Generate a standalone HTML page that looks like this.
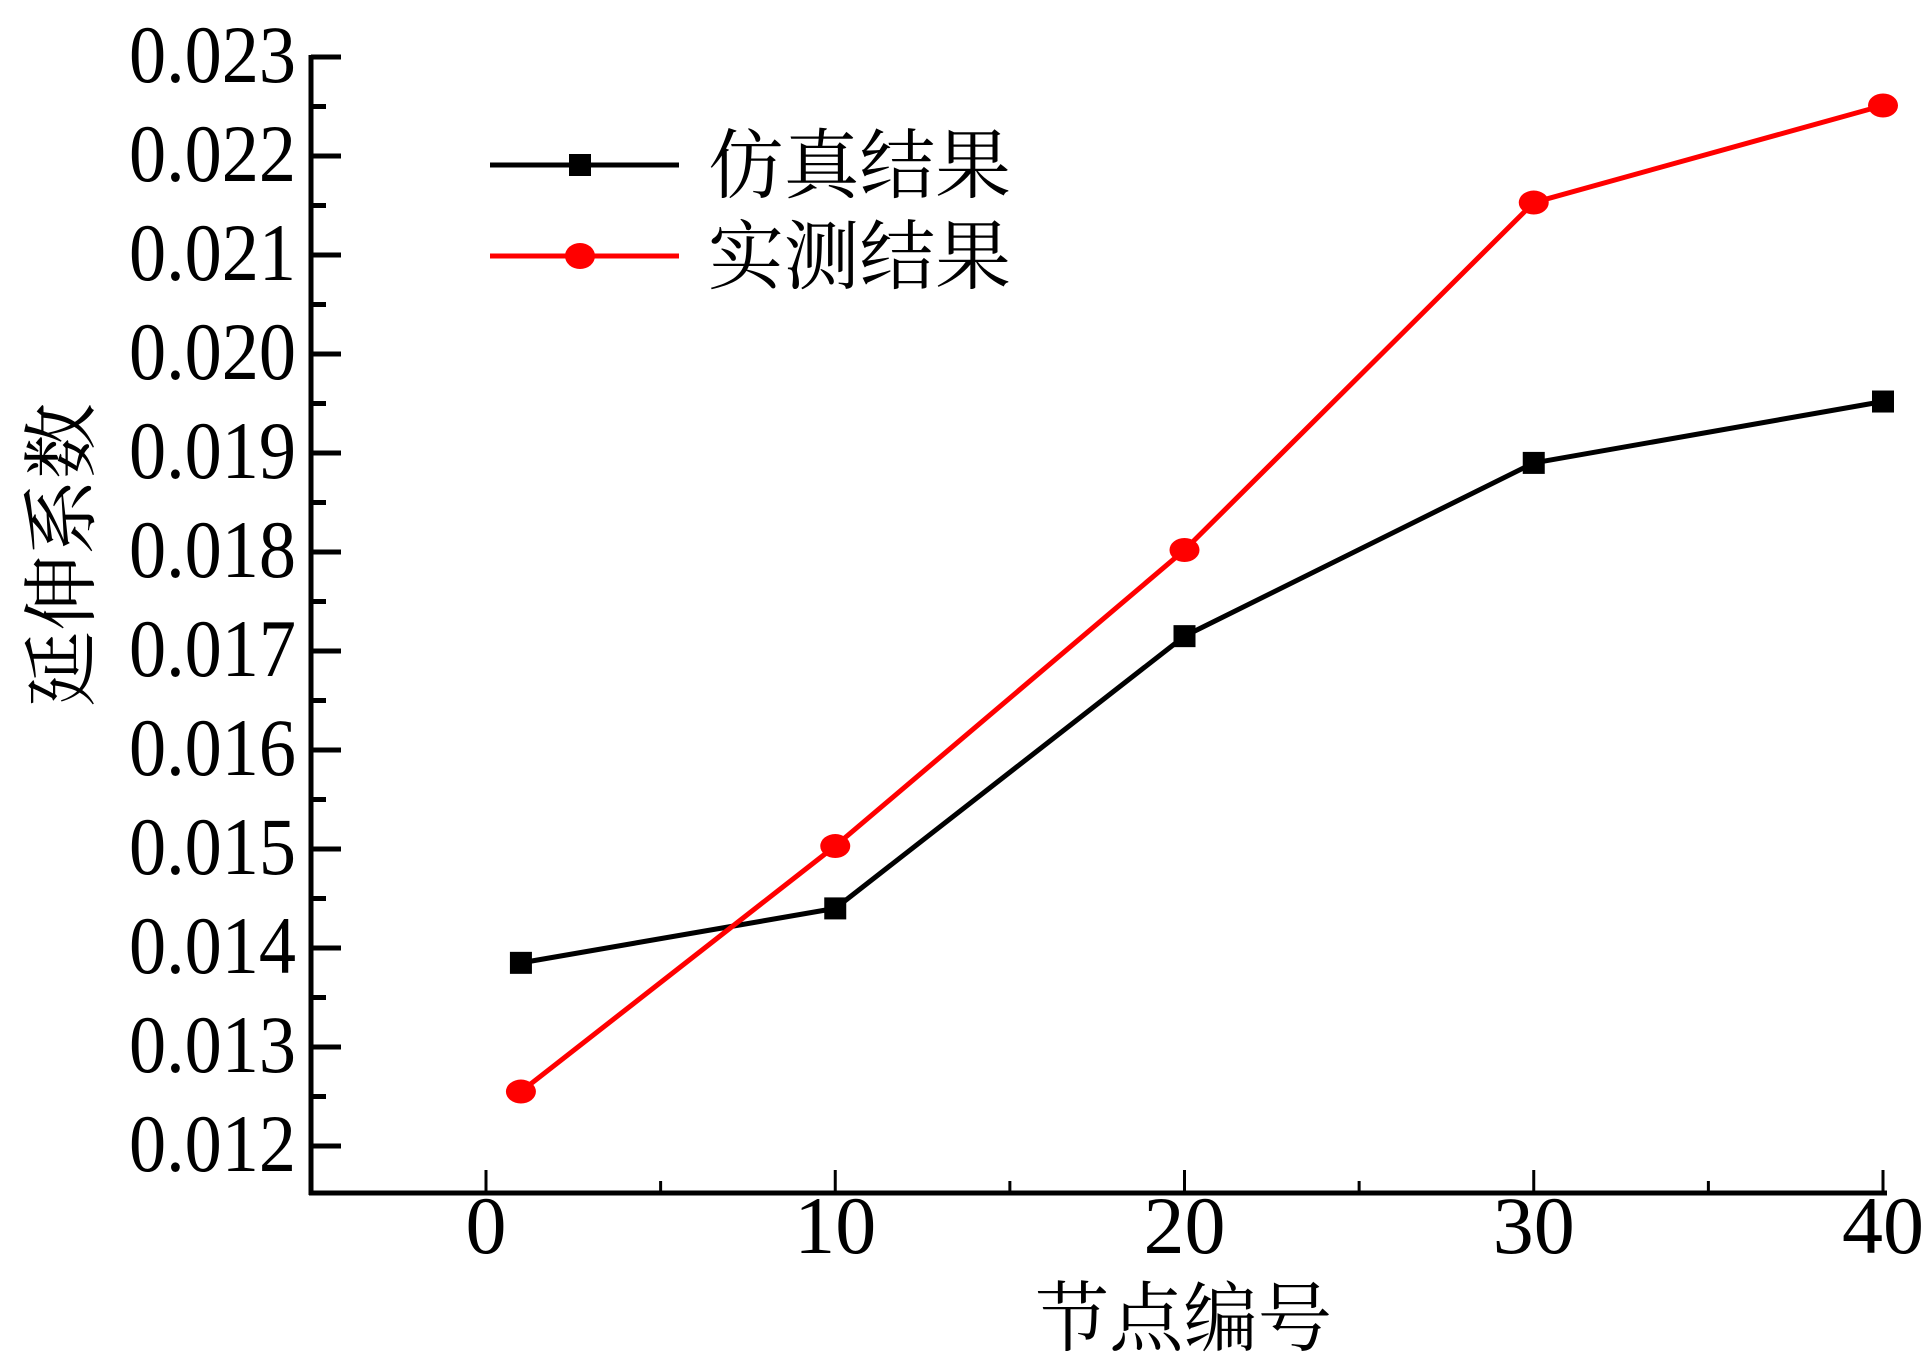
<!DOCTYPE html>
<html><head><meta charset="utf-8"><style>
body{margin:0;background:#fff;}
svg{display:block;}
text{font-family:"Liberation Serif","Noto Serif CJK SC",serif;fill:#000;}
</style></head><body>
<svg id="chart" width="1925" height="1368" viewBox="0 0 1925 1368">
<g id="axes"></g>
<g id="series"></g>
<g id="legend">
  <line x1="490" y1="165" x2="679" y2="165" stroke="#000" stroke-width="5"/>
  <rect x="569" y="154" width="22" height="22" fill="#000"/>
  <text x="708" y="192" font-size="76" textLength="303" lengthAdjust="spacingAndGlyphs">仿真结果</text>
  <line x1="490" y1="256" x2="679" y2="256" stroke="#f00" stroke-width="5"/>
  <ellipse cx="580" cy="256" rx="15" ry="13" fill="#f00"/>
  <text x="708" y="283" font-size="76" textLength="303" lengthAdjust="spacingAndGlyphs">实测结果</text>
</g>
<text x="1035" y="1345" font-size="76" textLength="297" lengthAdjust="spacingAndGlyphs">节点编号</text>
<text transform="translate(88,555) rotate(-90)" font-size="76" text-anchor="middle">延伸系数</text>
</svg>
<script>
const xNodes=[1,10,20,30,40];
const simValues=[0.01385,0.0144,0.01715,0.0189,0.01952];
const measValues=[0.01255,0.01503,0.01802,0.02153,0.02251];
const xTicks=[0,10,20,30,40];
const yTicks=[0.012,0.013,0.014,0.015,0.016,0.017,0.018,0.019,0.020,0.021,0.022,0.023];
const yTickLabels=["0.012","0.013","0.014","0.015","0.016","0.017","0.018","0.019","0.020","0.021","0.022","0.023"];

const NS="http://www.w3.org/2000/svg";
const X=v=>486+(v-0)*(1883-486)/40;
const Y=v=>57+(0.023-v)*99000;
const axes=document.getElementById('axes');
const ser=document.getElementById('series');
function mk(tag,attrs,parent){const e=document.createElementNS(NS,tag);for(const k in attrs)e.setAttribute(k,attrs[k]);parent.appendChild(e);return e;}

const yAxis=mk('line',{x1:311,y1:55,x2:311,y2:1195,stroke:'#000','stroke-width':5},axes);


const xAxis=mk('line',{x1:309,y1:1193,x2:1887,y2:1193,stroke:'#000','stroke-width':5},axes);



yTicks.forEach((v,i)=>{
  const y=Y(v);
  const t=mk('line',{x1:311,y1:y,x2:341,y2:y,stroke:'#000','stroke-width':5},axes);
  
  
  if(i<yTicks.length-1){
    const m=mk('line',{x1:311,y1:y-49.5,x2:326,y2:y-49.5,stroke:'#000','stroke-width':5},axes);
    
    
  }
  const l=mk('text',{x:129,y:y+25,'font-size':82,textLength:167,lengthAdjust:'spacingAndGlyphs'},axes);
  l.textContent=yTickLabels[i];
  
  
});
xTicks.forEach((v,i)=>{
  const x=X(v);
  const t=mk('line',{x1:x,y1:1193,x2:x,y2:1170,stroke:'#000','stroke-width':3},axes);
  
  
  if(i<xTicks.length-1){
    const m=mk('line',{x1:X(v+5),y1:1193,x2:X(v+5),y2:1181,stroke:'#000','stroke-width':3},axes);
    
    
  }
  const l=mk('text',{x:x,y:1253,'font-size':82,'text-anchor':'middle'},axes);
  l.textContent=String(v);
  
  
});

function drawSeries(vals,color,name,square){
  const pts=xNodes.map((x,i)=>X(x)+','+Y(vals[i])).join(' ');
  const pl=mk('polyline',{points:pts,fill:'none',stroke:color,'stroke-width':5,'stroke-linejoin':'round'},ser);
  
  
  xNodes.forEach((x,i)=>{
    let m;
    if(square) m=mk('rect',{x:X(x)-11,y:Y(vals[i])-11,width:22,height:22,fill:color},ser);
    else m=mk('ellipse',{cx:X(x),cy:Y(vals[i]),rx:15,ry:12,fill:color},ser);
    
    
  });
}
drawSeries(simValues,'#000','sim',true);
drawSeries(measValues,'#f00','meas',false);
</script>
</body></html>
